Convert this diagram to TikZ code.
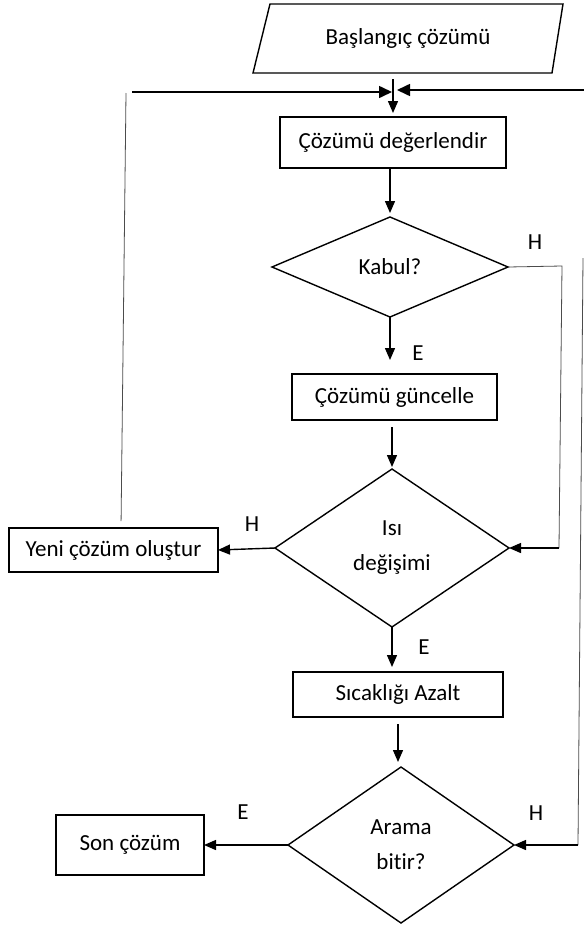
\documentclass[tikz,border=0pt]{standalone}
\usepackage{fontspec}
\setmainfont{Carlito}[Ligatures={NoCommon}]
\usetikzlibrary{arrows.meta,shapes.geometric}
\begin{document}
\begin{tikzpicture}[x=1pt,y=-1pt,
  every node/.style={font=\fontsize{23}{35}\selectfont, inner sep=0pt, outer sep=0pt},
  procbox/.style={draw, line width=1.4pt, rectangle},
  decision/.style={draw, line width=1.4pt, diamond, align=center},
  arr/.style={line width=1.4pt, -{Triangle[length=12pt,width=10pt]}},
  thinline/.style={line width=0.8pt, black!70},
  toplink/.style={line width=1.6pt, -{Triangle[length=13pt,width=12pt]}}
]
\useasboundingbox (0,0) rectangle (584,927);
\fill[white] (0,0) rectangle (584,927);

% start (parallelogram)
\draw[line width=1.4pt] (253,73) -- (270,4) -- (563,4) -- (552,73) -- cycle;
\node[minimum width=282pt, minimum height=69pt] (start) at (408,38.5) {Başlangıç çözümü};

% process boxes
\node[procbox, minimum width=226pt, minimum height=51pt] (eval) at (393,142.5) {Çözümü değerlendir};
\node[procbox, minimum width=205pt, minimum height=46pt] (upd) at (394.5,397) {Çözümü güncelle};
\node[procbox, minimum width=209pt, minimum height=44pt] (yeni) at (113.5,550) {Yeni çözüm oluştur};
\node[procbox, minimum width=210pt, minimum height=45pt] (sic) at (398,694.5) {Sıcaklığı Azalt};
\node[procbox, minimum width=148pt, minimum height=60pt] (son) at (130,845) {Son çözüm};

% decisions
\node[decision, minimum width=236pt, minimum height=100pt] (kabul) at (390,267) {Kabul?};
\node[decision, minimum width=234pt, minimum height=158pt] (isi) at (392,548) {Isı\\değişimi};
\node[decision, minimum width=226pt, minimum height=156pt] (arama) at (401,845) {Arama\\bitir?};

% labels
\node (hk) at (535,242) {H};
\node (ek) at (418,353) {E};
\node (hi) at (252,524) {H};
\node (ei) at (424,647) {E};
\node (ea) at (243,812) {E};
\node (ha) at (536,813) {H};

% free-end coordinates
\coordinate (ltop) at (132,92);
\coordinate (lv) at (126,93);
\coordinate (rtop) at (584,90);
\coordinate (k1) at (562,266);
\coordinate (k2) at (559,548);
\coordinate (r1) at (583,258);
\coordinate (r2) at (578,845);

% main flow
\draw[arr, shorten <=6pt, shorten >=4pt] (start.south -| eval.north) -- (eval.north);
\draw[toplink, shorten >=1pt] (ltop) -- (ltop -| eval.north);
\draw[toplink, shorten >=4pt] (rtop) -- (rtop -| eval.north);
\draw[arr, shorten >=4pt] (eval.south -| kabul.north) -- (kabul.north);
\draw[arr, shorten >=14pt] (kabul.south) -- (kabul.south |- upd.north);
\draw[arr, shorten <=7pt, shorten >=2pt] (upd.south -| isi.north) -- (isi.north);
\draw[arr, shorten >=5pt] (isi.south) -- (isi.south |- sic.north);
\draw[arr, shorten <=7pt, shorten >=5pt] (sic.south) -- (sic.south |- arama.north);
\draw[arr] (isi.west) -- (yeni.east);
\draw[arr] (arama.west) -- (son.east);

% loops
\draw[thinline, shorten <=7pt] ([xshift=7.5pt]yeni.north) -- (lv);
\draw[thinline] (kabul.east) -- (k1) -- (k2);
\draw[arr] (k2) -- (isi.east);
\draw[thinline] (r1) -- (r2);
\draw[arr] (r2) -- (arama.east);
\end{tikzpicture}
\end{document}
